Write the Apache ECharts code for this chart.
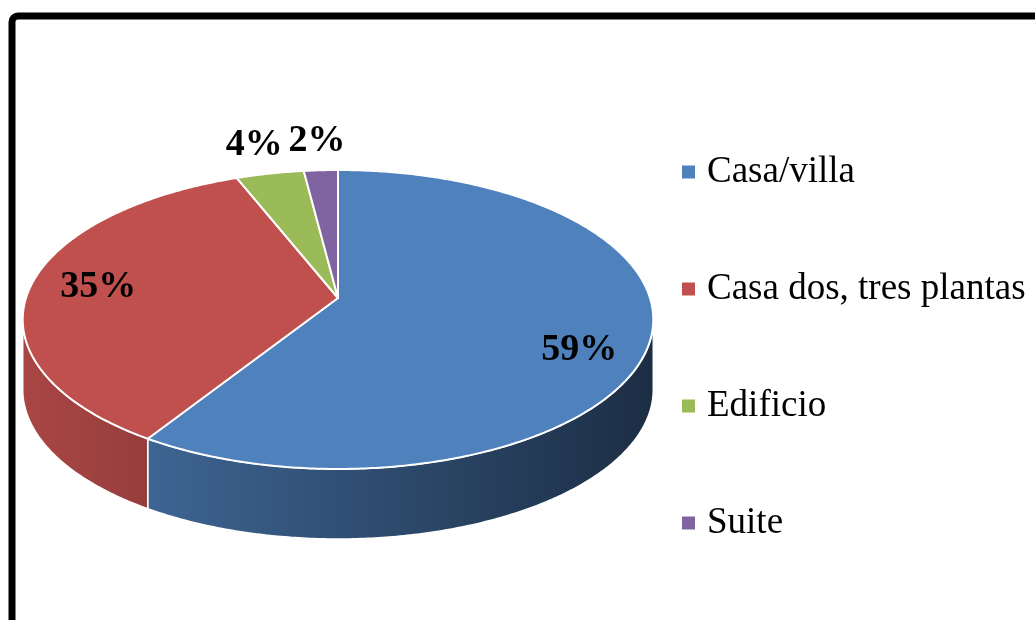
<!DOCTYPE html>
<html>
<head>
    <meta charset="utf-8">
    <title>Tipo de vivienda</title>
    <script src="https://cdn.jsdelivr.net/npm/echarts@6/dist/echarts.min.js"></script>
    <style>
        html, body { margin: 0; padding: 0; background: #fff; }
    </style>
</head>
<body>
    <div id="main" style="width: 1035px;height:620px;"></div>
    <script type="text/javascript">
        var categories = ['Casa/villa', 'Casa dos, tres plantas', 'Edificio', 'Suite'];
        var values = [59, 35, 4, 2];
        var colors = ['#4F81BD', '#C0504D', '#9BBB59', '#8064A2'];

        var myChart = echarts.init(document.getElementById('main'));

        // pseudo 3D pie: ellipse with a bit of perspective (far half is smaller)
        var cx = 338, cy = 298, R = 312, A = 146.4, B = 0.1438, depth = 70;
        var serif = '"Times New Roman", "Liberation Serif", serif';
        var total = values.reduce(function (s, v) { return s + v; }, 0);
        var cum = [0];
        values.forEach(function (v, i) { cum.push(cum[i] + v); });

        function proj(ang, r) {
            var c = Math.cos(ang) * r, s = Math.sin(ang) * r;
            var k = 1 - B * s;
            return [cx + R * c / k, cy + A * s / k];
        }
        function arc(a0, a1, dy) {
            var pts = [], n = Math.max(2, Math.ceil((a1 - a0) / 0.01));
            for (var j = 0; j <= n; j++) {
                var p = proj(a0 + (a1 - a0) * j / n, 1);
                pts.push([p[0], p[1] + dy]);
            }
            return pts;
        }
        function shade(hex, f) {
            var n = parseInt(hex.slice(1), 16);
            var r = Math.round(((n >> 16) & 255) * f), g = Math.round(((n >> 8) & 255) * f), b = Math.round((n & 255) * f);
            return 'rgb(' + r + ',' + g + ',' + b + ')';
        }

        // side is visible between the two silhouette points
        var sideStart = Math.asin(B), sideEnd = Math.PI - Math.asin(B);

        function renderSlice(params, api) {
            var i = params.seriesIndex;
            var a0 = -Math.PI / 2 + 2 * Math.PI * cum[i] / total;
            var a1 = a0 + 2 * Math.PI * values[i] / total;
            var children = [];

            var lo = Math.max(a0, sideStart), hi = Math.min(a1, sideEnd);
            if (hi > lo) {
                var side = arc(lo, hi, 0).concat(arc(lo, hi, depth).reverse());
                children.push({
                    type: 'polygon',
                    z2: 10,
                    shape: { points: side },
                    style: {
                        fill: new echarts.graphic.LinearGradient(cx - R, 0, cx + R, 0, [
                            { offset: 0, color: shade(colors[i], 0.88) },
                            { offset: 1, color: shade(colors[i], 0.36) }
                        ], true),
                        stroke: '#fff',
                        lineWidth: 1.5
                    }
                });
            }

            var top = [[cx, cy]].concat(arc(a0, a1, 0));
            children.push({
                type: 'polygon',
                z2: 20,
                shape: { points: top },
                style: { fill: colors[i], stroke: '#fff', lineWidth: 2, lineJoin: 'round' }
            });

            var mid = (a0 + a1) / 2;
            var pct = values[i] / total * 100;
            var lp;
            if (pct >= 10) {
                lp = proj(mid, 0.78);
                lp[1] += depth * Math.max(Math.sin(mid), 0);
            } else {
                lp = proj(mid, 1.27);
            }
            children.push({
                type: 'text',
                z2: 30,
                x: lp[0],
                y: lp[1],
                style: {
                    text: Math.round(pct) + '%',
                    fill: '#000',
                    font: 'bold 38px ' + serif,
                    align: 'center',
                    verticalAlign: 'middle'
                }
            });
            return { type: 'group', children: children };
        }

        var series = categories.map(function (name, i) {
            return {
                name: name,
                type: 'custom',
                coordinateSystem: 'none',
                silent: true,
                itemStyle: { color: colors[i] },
                data: [[values[i]]],
                renderItem: renderSlice
            };
        });

        var option = {
            animation: false,
            backgroundColor: '#fff',
            graphic: [{
                type: 'rect',
                shape: { x: 12, y: 16, width: 1100, height: 700, r: 6 },
                style: { fill: 'none', stroke: '#000', lineWidth: 7 }
            }],
            legend: {
                data: categories,
                orient: 'vertical',
                left: 677,
                top: 147,
                icon: 'rect',
                itemWidth: 13,
                itemHeight: 13,
                itemGap: 77,
                selectedMode: false,
                textStyle: {
                    fontFamily: serif,
                    fontSize: 37,
                    lineHeight: 40,
                    color: '#000',
                    padding: [0, 0, 0, 7]
                }
            },
            series: series
        };
        myChart.setOption(option);
    </script>
</body>
</html>
